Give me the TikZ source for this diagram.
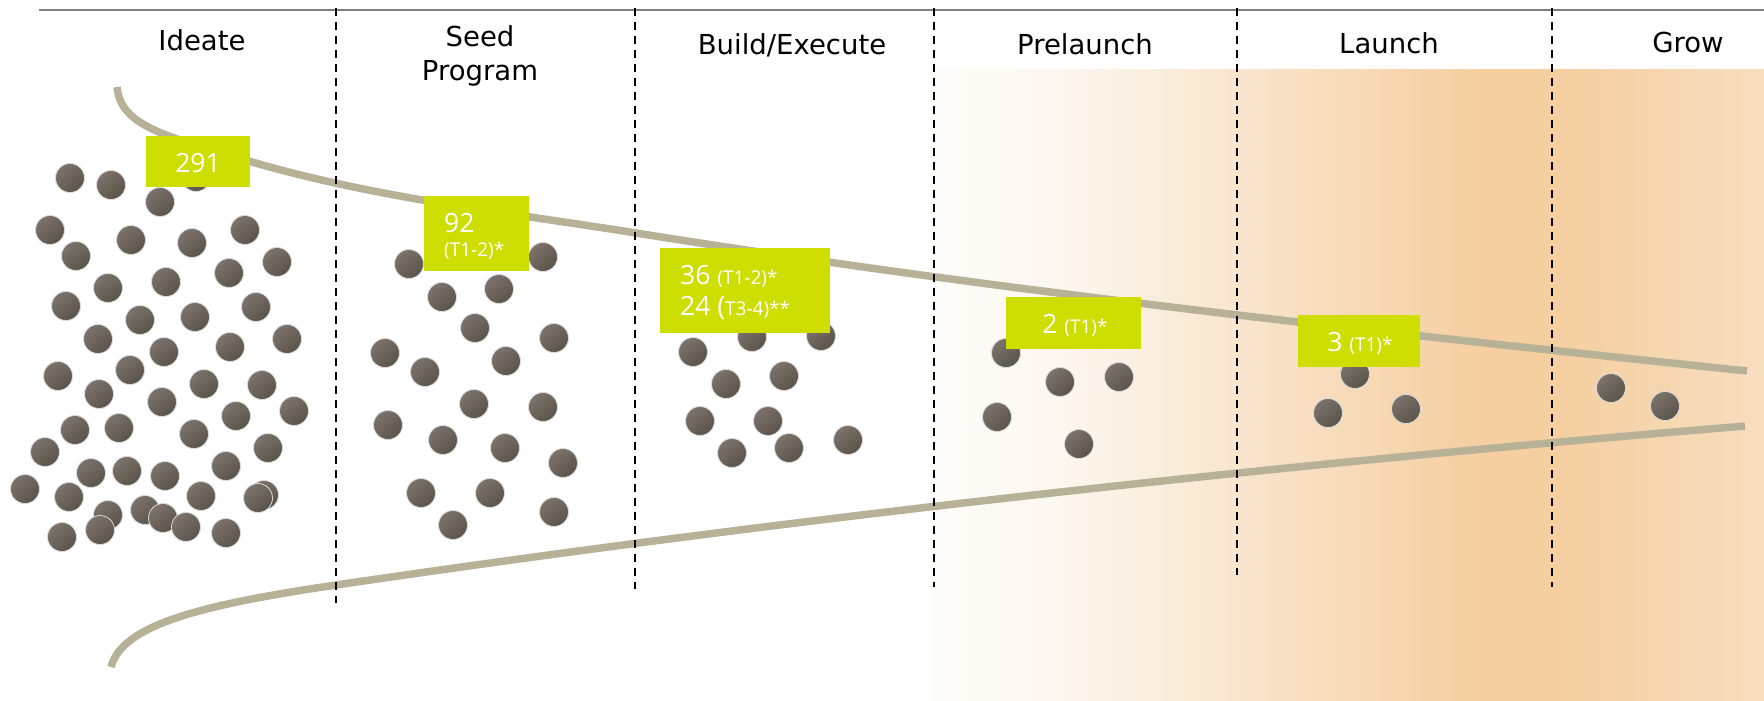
\documentclass[tikz,border=0pt]{standalone}
\usepackage{fontspec}
\setmainfont{DejaVu Sans}
\newfontfamily\boxfont{Open Sans}
\definecolor{funnelc}{RGB}{183,177,152}
\definecolor{boxc}{RGB}{206,222,0}
\definecolor{dotlight}{RGB}{124,116,108}
\definecolor{dotdark}{RGB}{90,83,73}
\definecolor{orA}{RGB}{254,252,249}
\definecolor{orB}{RGB}{252,246,238}
\definecolor{orC}{RGB}{249,230,207}
\definecolor{orpeak}{RGB}{245,207,160}
\definecolor{orend}{RGB}{247,222,192}
\newcommand\Bnum{\fontsize{26.5}{30}\selectfont}
\newcommand\Snum{\fontsize{19}{22}\selectfont}
\begin{document}
\begin{tikzpicture}[x=1pt,y=-1pt,
  head/.style={font=\fontsize{27.5}{34}\selectfont, inner sep=0, anchor=base, text=black},
  greenbox/.style={fill=boxc, draw=none, inner sep=0, anchor=north west},
  boxtxt/.style={font=\boxfont, text=white, inner sep=0},
  pebble/.style={circle, minimum size=29pt, inner sep=0, draw=white!72!gray, line width=0.8pt,
    top color=dotlight, bottom color=dotdark, shading angle=40},
  funnel/.style={draw=funnelc, line width=7.5pt},
  sep/.style={draw=black, line width=2pt, dash pattern=on 8pt off 6pt},
  topline/.style={draw=gray, line width=1.5pt}]
\useasboundingbox (0,0) rectangle (1764,701);
% background gradient
\shade[left color=orA, right color=orB] (934,70) rectangle (1070.5,701);
\shade[left color=orB, right color=orC] (1070,70) rectangle (1230.5,701);
\shade[left color=orC, right color=orpeak] (1230,70) rectangle (1480.5,701);
\shade[left color=orpeak, right color=orpeak] (1480,70) rectangle (1560.5,701);
\shade[left color=orpeak, right color=orend] (1560,70) rectangle (1764,701);
% top rule
\coordinate (tl) at (39,10);
\coordinate (tr) at (1764,10);
\draw[topline] (tl) -- (tr);
% funnel
\draw[funnel] (117,87) .. controls (121,125) and (160,135) .. (252,162)
  .. controls (380,199) and (508,212.5) .. (636,233)
  .. controls (1006,292) and (1377,332) .. (1747,371);
\draw[funnel] (111,667) .. controls (122,625) and (200,605) .. (336,585)
  .. controls (806,516) and (1275,465) .. (1745,426);
% separators
\foreach \x/\b [count=\i] in {336/603,635/589,934/587,1237/575,1552/587}{
  \coordinate (s\i a) at (\x,8);
  \coordinate (s\i b) at (\x,\b);
  \draw[sep] (s\i a) -- (s\i b);
}
% headers
\node[head] (hIdeate) at (202,51) {Ideate};
\node[head, anchor=north, align=center] (hSeed) at (480,25) {Seed\\Program};
\node[head] (hBuild) at (792,55) {Build/Execute};
\node[head] (hPre) at (1085,55) {Prelaunch};
\node[head] (hLaunch) at (1389,54) {Launch};
\node[head] (hGrow) at (1688,53) {Grow};
% dots
\foreach \x/\y [count=\i] in {70/178,111/185,196/177,160/202,50/230,131/240,192/243,245/230,
  76/256,277/262,229/273,108/288,166/282,66/306,140/320,195/317,256/307,98/339,164/352,
  230/347,287/339,58/376,130/370,99/394,204/384,262/385,162/402,236/416,294/411,75/430,
  119/428,194/434,45/452,268/448,91/473,127/471,165/476,226/466,25/489,69/497,201/496,
  264/495,258/498,108/515,145/510,163/518,100/530,186/527,62/537,226/533}
  \node[pebble] (a\i) at (\x,\y) {};
\foreach \x/\y [count=\i] in {409/264,543/257,442/297,499/289,475/328,554/338,385/353,
  506/361,425/372,474/404,543/407,388/425,443/440,505/448,563/463,421/493,490/493,
  554/512,453/525}
  \node[pebble] (b\i) at (\x,\y) {};
\foreach \x/\y [count=\i] in {752/337,821/336,693/352,726/384,784/376,700/421,768/421,
  732/453,789/448,848/440}
  \node[pebble] (c\i) at (\x,\y) {};
\foreach \x/\y [count=\i] in {1006/353,1060/382,1119/377,997/417,1079/444}
  \node[pebble] (p\i) at (\x,\y) {};
\foreach \x/\y [count=\i] in {1355/374,1328/413,1406/409}
  \node[pebble] (l\i) at (\x,\y) {};
\foreach \x/\y [count=\i] in {1611/388,1665/406}
  \node[pebble] (g\i) at (\x,\y) {};
% boxes
\node[greenbox, minimum width=104pt, minimum height=51pt] (box291) at (146,136) {};
\node[boxtxt, anchor=base] (t291) at (198,172) {\Bnum 291};
\node[greenbox, minimum width=105pt, minimum height=75pt] (box92) at (424,196) {};
\node[boxtxt, anchor=base west] (t92a) at (444,232) {\Bnum 92};
\node[boxtxt, anchor=base west] (t92b) at (444,256) {\Snum (T1-2)*};
\node[greenbox, minimum width=170pt, minimum height=85pt] (box36) at (660,248) {};
\node[boxtxt, anchor=base west] (t36) at (680,284) {\Bnum 36 {\Snum (T1-2)*}};
\node[boxtxt, anchor=base west] (t24) at (680,315) {\Bnum 24 ({\Snum T3-4)**}};
\node[greenbox, minimum width=135pt, minimum height=52pt] (box2) at (1006,297) {};
\node[boxtxt, anchor=base] (t2) at (1075,333) {\Bnum 2 {\Snum (T1)*}};
\node[greenbox, minimum width=122pt, minimum height=52pt] (box3) at (1298,315) {};
\node[boxtxt, anchor=base] (t3) at (1360,351) {\Bnum 3 {\Snum (T1)*}};
\end{tikzpicture}
\end{document}
